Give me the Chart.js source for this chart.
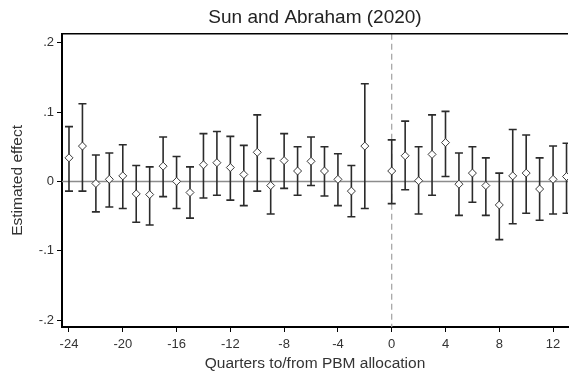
<!DOCTYPE html>
<html>
<head>
<meta charset="utf-8">
<title>Sun and Abraham (2020)</title>
<script src="https://cdn.jsdelivr.net/npm/chart.js@4/dist/chart.umd.min.js"></script>
<style>
    html, body { margin: 0; padding: 0; background: #fff; overflow: hidden; }
    #mychart { display: block; }
</style>
</head>
<body>
<canvas id="mychart" width="573" height="377"></canvas>
<script>
// event-time quarters (-1 is the omitted reference period)
var quarters = [-24, -23, -22, -21, -20, -19, -18, -17, -16, -15, -14, -13, -12, -11, -10, -9, -8, -7, -6, -5, -4, -3, -2,
    0, 1, 2, 3, 4, 5, 6, 7, 8, 9, 10, 11, 12, 13];
var estimates = [0.034, 0.051, -0.003, 0.003, 0.008, -0.018, -0.019, 0.022, 0.000, -0.016, 0.024, 0.027, 0.020, 0.010, 0.042, -0.006, 0.030, 0.015, 0.029, 0.015, 0.003, -0.014, 0.051,
    0.015, 0.037, 0.001, 0.039, 0.056, -0.004, 0.012, -0.006, -0.034, 0.008, 0.012, -0.011, 0.003, 0.007];
var ciHigh = [0.079, 0.112, 0.038, 0.041, 0.053, 0.023, 0.021, 0.064, 0.036, 0.021, 0.069, 0.072, 0.065, 0.052, 0.096, 0.033, 0.069, 0.050, 0.064, 0.050, 0.040, 0.023, 0.141,
    0.060, 0.087, 0.050, 0.096, 0.101, 0.041, 0.050, 0.034, 0.012, 0.075, 0.067, 0.034, 0.051, 0.055];
var ciLow = [-0.014, -0.014, -0.044, -0.037, -0.039, -0.059, -0.063, -0.022, -0.039, -0.053, -0.024, -0.020, -0.027, -0.035, -0.014, -0.047, -0.010, -0.020, -0.006, -0.021, -0.035, -0.051, -0.039,
    -0.032, -0.012, -0.047, -0.020, 0.007, -0.049, -0.030, -0.049, -0.084, -0.061, -0.046, -0.056, -0.047, -0.046];
var xTicks = [-24, -20, -16, -12, -8, -4, 0, 4, 8, 12];
var yTicks = [-0.2, -0.1, 0, 0.1, 0.2];

var fontFamily = "'Liberation Sans', Arial, sans-serif";

var points = [];
for (var i = 0; i < quarters.length; i++) {
    points.push({ x: quarters[i], y: estimates[i], lo: ciLow[i], hi: ciHigh[i] });
}

// zero line, dashed line at event time 0 and the confidence intervals
var refLines = {
    id: 'refLines',
    beforeDatasetsDraw: function (chart) {
        var ctx = chart.ctx;
        var area = chart.chartArea;
        var xs = chart.scales.x;
        var ys = chart.scales.y;
        ctx.save();
        ctx.beginPath();
        ctx.rect(area.left, area.top, area.right - area.left, area.bottom - area.top);
        ctx.clip();

        var y0 = ys.getPixelForValue(0);
        ctx.strokeStyle = '#8c8c8c';
        ctx.lineWidth = 1.5;
        ctx.beginPath();
        ctx.moveTo(area.left, y0);
        ctx.lineTo(area.right, y0);
        ctx.stroke();

        var x0 = xs.getPixelForValue(0);
        ctx.setLineDash([6, 4]);
        ctx.strokeStyle = '#a0a0a0';
        ctx.lineWidth = 1.2;
        ctx.beginPath();
        ctx.moveTo(x0, area.top);
        ctx.lineTo(x0, area.bottom);
        ctx.stroke();
        ctx.setLineDash([]);

        ctx.strokeStyle = '#2b2b2b';
        ctx.lineWidth = 1.6;
        var data = chart.data.datasets[0].data;
        data.forEach(function (p) {
            var px = xs.getPixelForValue(p.x);
            var top = ys.getPixelForValue(p.hi);
            var bot = ys.getPixelForValue(p.lo);
            ctx.beginPath();
            ctx.moveTo(px, top);
            ctx.lineTo(px, bot);
            ctx.moveTo(px - 4, top);
            ctx.lineTo(px + 4, top);
            ctx.moveTo(px - 4, bot);
            ctx.lineTo(px + 4, bot);
            ctx.stroke();
        });
        ctx.restore();
    },
    afterDraw: function (chart) {
        // top frame of the plot region
        var ctx = chart.ctx;
        var area = chart.chartArea;
        ctx.save();
        ctx.strokeStyle = '#000';
        ctx.lineWidth = 1.5;
        ctx.beginPath();
        ctx.moveTo(area.left, area.top);
        ctx.lineTo(area.right, area.top);
        ctx.stroke();
        ctx.restore();
    }
};

var ctx = document.getElementById('mychart');
var chart = new Chart(ctx, {
    type: 'scatter',
    data: {
        datasets: [{
            data: points,
            pointStyle: 'rectRot',
            pointRadius: 4,
            pointBackgroundColor: '#ffffff',
            pointBorderColor: '#3a3a3a',
            pointBorderWidth: 1,
            showLine: false
        }]
    },
    options: {
        responsive: false,
        animation: false,
        layout: { padding: 0 },
        plugins: {
            legend: { display: false },
            tooltip: { enabled: false },
            title: {
                display: true,
                fullSize: false,
                text: 'Sun and Abraham (2020)',
                color: '#222',
                font: { family: fontFamily, size: 19, weight: 'normal' },
                padding: { top: 6, bottom: 5 }
            }
        },
        scales: {
            x: {
                type: 'linear',
                min: -24.52,
                max: 13.11,
                afterBuildTicks: function (scale) {
                    scale.ticks = xTicks.map(function (v) { return { value: v }; });
                },
                afterFit: function (scale) { scale.height = 50; },
                border: { color: '#000', width: 2 },
                grid: { drawOnChartArea: false, tickLength: 5, tickColor: '#000', tickWidth: 1 },
                ticks: {
                    color: '#333',
                    padding: 5,
                    maxRotation: 0,
                    autoSkip: false,
                    font: { family: fontFamily, size: 13 },
                    callback: function (v) { return String(v); }
                },
                title: {
                    display: true,
                    text: 'Quarters to/from PBM allocation',
                    color: '#333',
                    font: { family: fontFamily, size: 15.5 },
                    padding: { top: 0, bottom: 4 }
                }
            },
            y: {
                min: -0.2101,
                max: 0.213,
                afterBuildTicks: function (scale) {
                    scale.ticks = yTicks.map(function (v) { return { value: v }; });
                },
                afterFit: function (scale) { scale.width = 62; },
                border: { color: '#000', width: 2 },
                grid: { drawOnChartArea: false, tickLength: 5, tickColor: '#000', tickWidth: 1 },
                ticks: {
                    color: '#333',
                    padding: 3,
                    font: { family: fontFamily, size: 13 },
                    callback: function (v) {
                        var s = (Math.round(v * 10) / 10).toString();
                        return s.replace('0.', '.');
                    }
                },
                title: {
                    display: true,
                    text: 'Estimated effect',
                    color: '#333',
                    font: { family: fontFamily, size: 15.5 },
                    padding: { top: 8, bottom: 0 }
                }
            }
        }
    },
    plugins: [refLines]
});
</script>
</body>
</html>
